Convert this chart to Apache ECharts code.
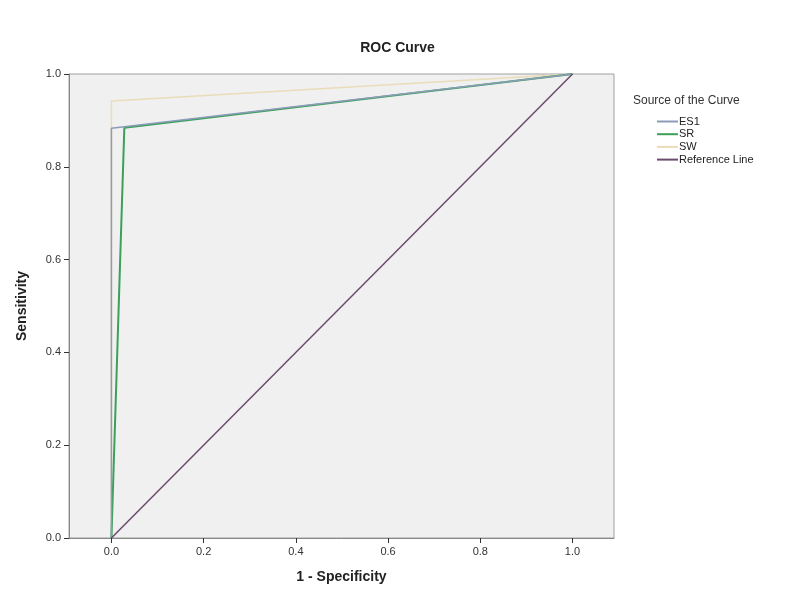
<!DOCTYPE html>
<html>
<head>
<meta charset="utf-8">
<script src="https://cdn.jsdelivr.net/npm/echarts@6/dist/echarts.min.js"></script>
<style>
  html, body { margin: 0; padding: 0; background: #ffffff; }
  #chart { width: 795px; height: 598px; }
</style>
</head>
<body>
<div id="chart"></div>
<script>
// ROC coordinates: [1 - specificity, sensitivity]
const seriesNames = ['ES1', 'SR', 'SW', 'Reference Line'];
const es1Points = [[0, 0], [0, 0.883], [1, 1]];
const srPoints = [[0, 0], [0.028, 0.884], [1, 1]];
const swPoints = [[0, 0], [0, 0.942], [1, 1]];
const referencePoints = [[0, 0], [1, 1]];
const tickValues = [0, 0.2, 0.4, 0.6, 0.8, 1.0];

const chart = echarts.init(document.getElementById('chart'));
const font = 'Liberation Sans, Arial, sans-serif';

function lineSeries(name, data, color, width, z) {
  return {
    name: name,
    type: 'line',
    data: data,
    symbol: 'none',
    silent: true,
    z: z,
    lineStyle: { color: color, width: width },
    itemStyle: { color: color }
  };
}

chart.setOption({
  animation: false,
  backgroundColor: '#ffffff',
  title: {
    text: 'ROC Curve',
    left: 'center',
    top: 36,
    textStyle: { fontFamily: font, fontSize: 14, fontWeight: 'bold', color: '#222' }
  },
  graphic: [{
    type: 'text',
    left: 633,
    top: 95,
    style: { text: 'Source of the Curve', font: '12px ' + font, fill: '#333' }
  }],
  legend: {
    orient: 'vertical',
    left: 652,
    top: 111,
    itemWidth: 21,
    itemHeight: 2,
    itemGap: 1.7,
    icon: 'rect',
    selectedMode: false,
    data: seriesNames,
    textStyle: { fontFamily: font, fontSize: 11, color: '#222', padding: [0, 0, 0, -4] }
  },
  grid: {
    left: 69,
    right: 181,
    top: 74,
    bottom: 60,
    show: true,
    backgroundColor: '#f0f0f0',
    borderColor: '#a0a0a0',
    borderWidth: 1
  },
  xAxis: {
    type: 'value',
    min: -0.092,
    max: 1.09,
    name: '1 - Specificity',
    nameLocation: 'middle',
    nameGap: 32,
    nameTextStyle: { fontFamily: font, fontSize: 14, fontWeight: 'bold', color: '#222' },
    axisLine: { show: true, onZero: false, lineStyle: { color: '#888' } },
    axisTick: { show: true, customValues: tickValues, length: 5, lineStyle: { color: '#333' } },
    axisLabel: {
      customValues: tickValues,
      formatter: v => v.toFixed(1),
      fontFamily: font, fontSize: 11, color: '#333', margin: 8
    },
    splitLine: { show: false }
  },
  yAxis: {
    type: 'value',
    min: 0,
    max: 1,
    interval: 0.2,
    name: 'Sensitivity',
    nameLocation: 'middle',
    nameGap: 40,
    nameTextStyle: { fontFamily: font, fontSize: 14, fontWeight: 'bold', color: '#222' },
    axisLine: { show: true, onZero: false, lineStyle: { color: '#888' } },
    axisTick: { show: true, length: 5, lineStyle: { color: '#333' } },
    axisLabel: {
      formatter: v => v.toFixed(1),
      fontFamily: font, fontSize: 11, color: '#333', margin: 8
    },
    splitLine: { show: false }
  },
  series: [
    lineSeries('ES1', es1Points, '#8c9cb8', 1.5, 4),
    lineSeries('SR', srPoints, '#3aa05a', 2, 3),
    lineSeries('SW', swPoints, '#eadcb8', 1.5, 2),
    lineSeries('Reference Line', referencePoints, '#6b4a6e', 1.5, 5)
  ]
});
</script>
</body>
</html>
